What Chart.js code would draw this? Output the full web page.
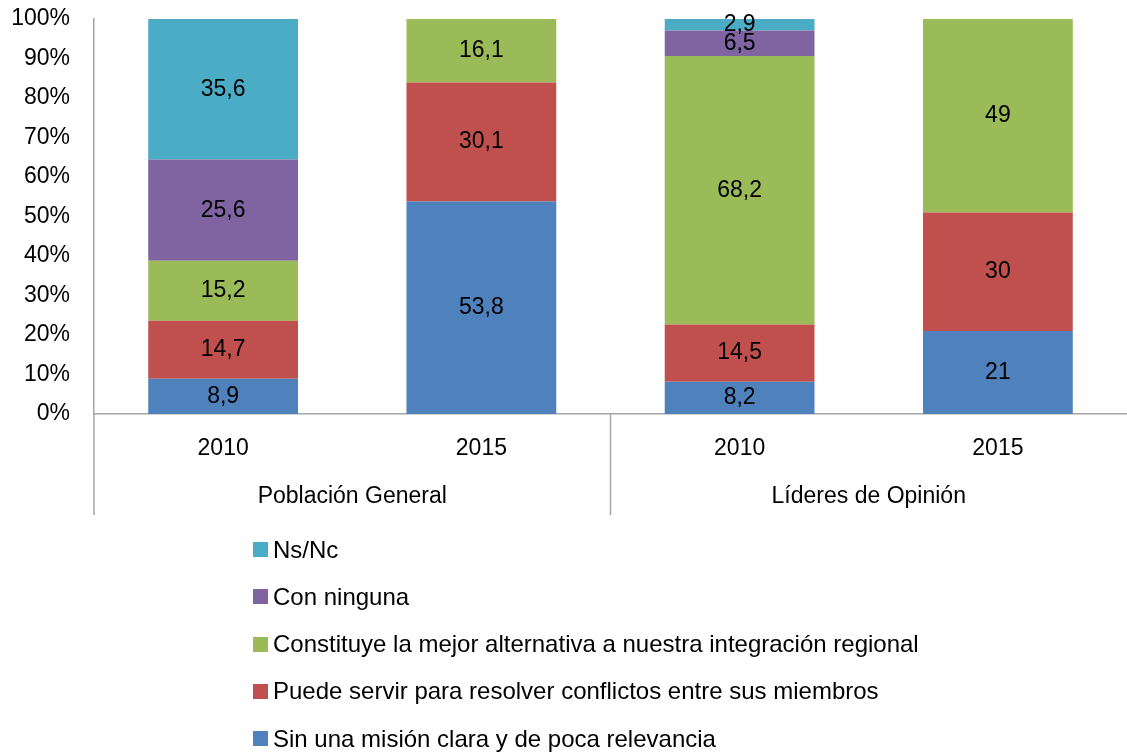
<!DOCTYPE html>
<html>
<head>
<meta charset="utf-8">
<script src="https://cdn.jsdelivr.net/npm/chart.js@4.4.0/dist/chart.umd.min.js"></script>
<style>
  body { margin: 0; background: #fff; font-family: "Liberation Sans", sans-serif; }
  #wrap { position: relative; width: 1127px; height: 753px; }
  #box { position: absolute; left: 0; top: 0; width: 1127px; height: 530px; }
  #legend { position: absolute; left: 253px; top: 526px; }
  .item { height: 47.25px; display: flex; align-items: center; font-size: 24px; color: #000; }
  .sq { width: 15px; height: 15px; margin-right: 5px; }
</style>
</head>
<body>
<div id="wrap">
  <div id="box"><canvas id="chart"></canvas></div>
  <div id="legend"></div>
</div>
<script>
// categorias (año) y grupos
const years = ['2010', '2015', '2010', '2015'];
const groups = ['Población General', 'Líderes de Opinión'];

// series, de abajo hacia arriba en la barra
const seriesNames = [
  'Sin una misión clara y de poca relevancia',
  'Puede servir para resolver conflictos entre sus miembros',
  'Constituye la mejor alternativa a nuestra integración regional',
  'Con ninguna',
  'Ns/Nc'
];
const colors = ['#4F81BD', '#C0504D', '#9BBB59', '#8064A2', '#4BACC6'];

const sinMision = [8.9, 53.8, 8.2, 21];
const puedeServir = [14.7, 30.1, 14.5, 30];
const constituye = [15.2, 16.1, 68.2, 49];
const conNinguna = [25.6, 0, 6.5, 0];
const nsnc = [35.6, 0, 2.9, 0];

const allSeries = [sinMision, puedeServir, constituye, conNinguna, nsnc];

// totales por barra, para apilar al 100%
let totals = years.map((y, i) => allSeries.reduce((s, arr) => s + arr[i], 0));

let datasets = allSeries.map((arr, k) => ({
  label: seriesNames[k],
  data: arr.map((v, i) => v / totals[i] * 100),
  raw: arr,
  backgroundColor: colors[k],
  borderWidth: 0,
  categoryPercentage: 1,
  barPercentage: 0.58
}));

const FONT = 'Liberation Sans';
const FSIZE = 23;

// etiquetas dentro de cada segmento
const labelsPlugin = {
  id: 'segLabels',
  afterDatasetsDraw(chart) {
    const ctx = chart.ctx;
    ctx.save();
    ctx.font = FSIZE + 'px "' + FONT + '"';
    ctx.fillStyle = '#000';
    ctx.textAlign = 'center';
    ctx.textBaseline = 'middle';
    chart.data.datasets.forEach((ds, k) => {
      chart.getDatasetMeta(k).data.forEach((bar, i) => {
        let v = ds.raw[i];
        if (!v) return;
        let mid = (bar.y + bar.base) / 2;
        ctx.fillText(String(v).replace('.', ','), bar.x, mid);
      });
    });
    ctx.restore();
  }
};

// lineas de separacion y nombres de grupo debajo del eje
const groupPlugin = {
  id: 'groupAxis',
  afterDraw(chart) {
    const ctx = chart.ctx;
    const x = chart.scales.x;
    const area = chart.chartArea;
    const bottom = area.bottom + 101;
    ctx.save();
    ctx.strokeStyle = '#a6a6a6';
    ctx.lineWidth = 1.5;
    let sep = (x.getPixelForTick(1) + x.getPixelForTick(2)) / 2;
    [area.left, sep].forEach(px => {
      ctx.beginPath();
      ctx.moveTo(px, area.bottom);
      ctx.lineTo(px, bottom);
      ctx.stroke();
    });
    ctx.font = FSIZE + 'px "' + FONT + '"';
    ctx.fillStyle = '#000';
    ctx.textAlign = 'center';
    ctx.textBaseline = 'middle';
    groups.forEach((g, j) => {
      let cx = (x.getPixelForTick(j * 2) + x.getPixelForTick(j * 2 + 1)) / 2;
      ctx.fillText(g, cx, area.bottom + 83);
    });
    ctx.restore();
  }
};

new Chart(document.getElementById('chart'), {
  type: 'bar',
  data: { labels: years, datasets: datasets },
  options: {
    responsive: true,
    maintainAspectRatio: false,
    animation: false,
    layout: { padding: { top: 19, right: 0, left: 0, bottom: 0 } },
    plugins: { legend: { display: false }, tooltip: { enabled: false } },
    scales: {
      x: {
        stacked: true,
        grid: { display: false, drawTicks: false },
        border: { color: '#a6a6a6', width: 1.5 },
        ticks: { color: '#000', font: { family: FONT, size: FSIZE }, padding: 21 },
        afterFit(scale) { scale.height = 116; }
      },
      y: {
        stacked: true,
        min: 0,
        max: 100,
        grid: { display: false, drawTicks: false },
        border: { color: '#a6a6a6', width: 1.5 },
        ticks: {
          stepSize: 10,
          color: '#000',
          font: { family: FONT, size: FSIZE },
          padding: 24,
          callback: v => v + '%'
        },
        afterFit(scale) {
          scale.width = 94;
          scale.paddingTop = 0;
          scale.paddingBottom = 0;
        }
      }
    }
  },
  plugins: [labelsPlugin, groupPlugin]
});

// leyenda en orden inverso, como en el original
let legend = document.getElementById('legend');
for (let k = seriesNames.length - 1; k >= 0; k--) {
  let row = document.createElement('div');
  row.className = 'item';
  row.innerHTML = `<span class="sq" style="background:${colors[k]}"></span>${seriesNames[k]}`;
  legend.appendChild(row);
}
</script>
</body>
</html>
